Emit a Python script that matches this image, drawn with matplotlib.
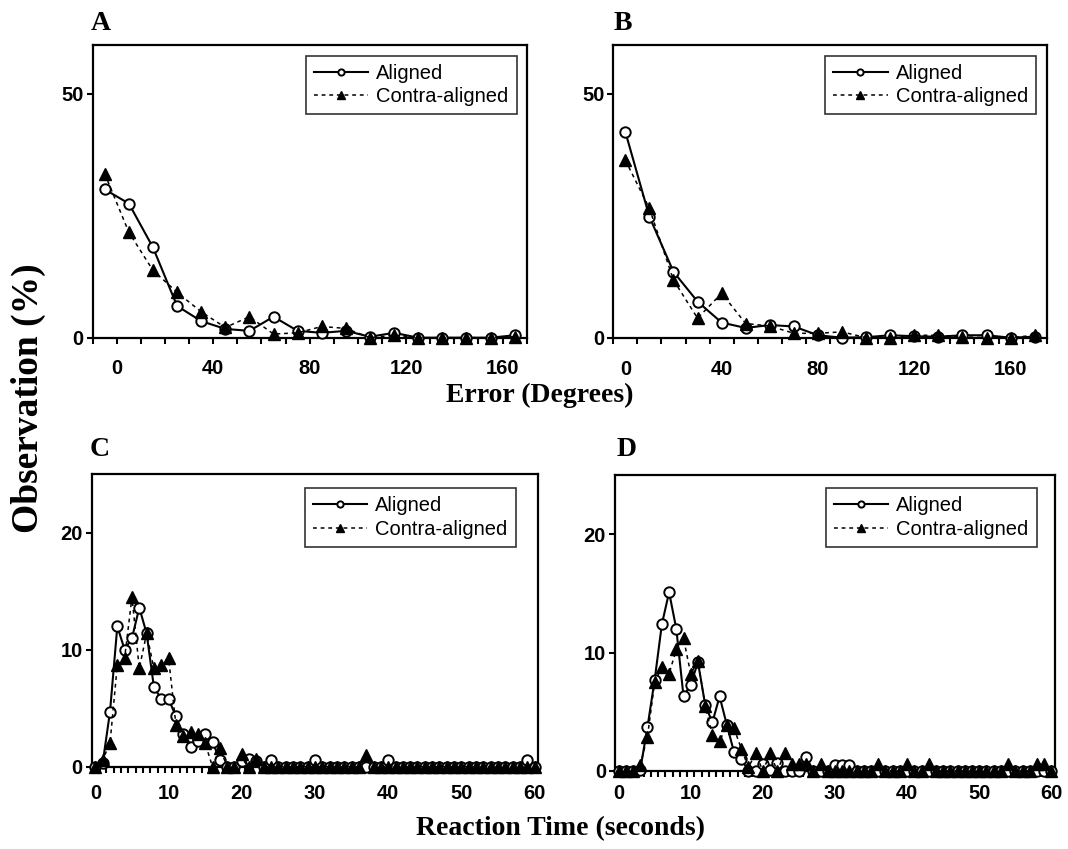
import matplotlib
matplotlib.use("Agg")
import matplotlib.pyplot as plt
import numpy as np

# ---------------- data ----------------
err_a_x = [-5, 5, 15, 25, 35, 45, 55, 65, 75, 85, 95, 105, 115, 125, 135, 145, 155, 165]
err_a_aligned = [30.4, 27.5, 18.5, 6.5, 3.4, 1.8, 1.4, 4.3, 1.4, 1.0, 1.4, 0.2, 1.0, 0, 0, 0, 0, 0.5]
err_a_contra = [33.6, 21.6, 13.8, 9.3, 5.3, 2.1, 4.3, 0.75, 1.0, 2.3, 1.9, 0, 0.5, 0, 0, 0, 0, 0.2]

err_b_x = [0, 10, 20, 30, 40, 50, 60, 70, 80, 90, 100, 110, 120, 130, 140, 150, 160, 170]
err_b_aligned = [42.2, 24.8, 13.5, 7.4, 3.1, 2.0, 2.6, 2.3, 0.5, 0, 0.1, 0.5, 0.3, 0.2, 0.5, 0.5, 0, 0.2]
err_b_contra = [36.4, 26.5, 11.8, 4.0, 9.1, 2.9, 2.4, 0.9, 0.9, 1.2, 0, 0, 0.5, 0.5, 0.2, 0, 0, 0.5]

rt_x = list(range(61))
rt_c_aligned = [0, 0.3, 4.7, 12.0, 10.0, 11.0, 13.6, 11.4, 6.8, 5.8,
                5.8, 4.3, 2.8, 1.7, 2.2, 2.8, 2.1, 0.6, 0, 0,
                0.5, 0.7, 0.5, 0, 0.6, 0, 0, 0, 0, 0,
                0.6, 0, 0, 0, 0, 0, 0, 0, 0, 0,
                0.6, 0, 0, 0, 0, 0, 0, 0, 0, 0,
                0, 0, 0, 0, 0, 0, 0, 0, 0, 0.6, 0]
rt_c_contra = [0, 0.6, 2.0, 8.7, 9.3, 14.5, 8.4, 11.4, 8.4, 8.7,
               9.3, 3.6, 2.6, 3.0, 2.8, 2.0, 0, 1.6, 0, 0,
               1.1, 0, 0.7, 0, 0, 0, 0, 0, 0, 0,
               0, 0, 0, 0, 0, 0, 0, 1.0, 0, 0,
               0, 0, 0, 0, 0, 0, 0, 0, 0, 0,
               0, 0, 0, 0, 0, 0, 0, 0, 0, 0, 0]
rt_d_aligned = [0, 0, 0, 0.1, 3.7, 7.7, 12.4, 15.1, 12.0, 6.3,
                7.3, 9.2, 5.6, 4.1, 6.3, 3.9, 1.6, 1.0, 0, 0,
                0.6, 0.1, 0.7, 0, 0, 0, 1.2, 0, 0, 0,
                0.5, 0.5, 0.5, 0, 0, 0, 0, 0, 0, 0,
                0, 0, 0, 0, 0, 0, 0, 0, 0, 0,
                0, 0, 0, 0, 0, 0, 0, 0, 0, 0, 0]
rt_d_contra = [0, 0, 0, 0.5, 2.9, 7.5, 8.8, 8.2, 10.3, 11.2,
               8.2, 9.3, 5.5, 3.0, 2.5, 3.9, 3.6, 1.9, 0.3, 1.5,
               0, 1.5, 0, 1.5, 0.6, 0.6, 0.6, 0, 0.6, 0,
               0, 0, 0, 0, 0, 0, 0.6, 0, 0, 0,
               0.6, 0, 0, 0.6, 0, 0, 0, 0, 0, 0,
               0, 0, 0, 0, 0.6, 0, 0, 0, 0.6, 0.6, 0]

series_labels = ["Aligned", "Contra-aligned"]
err_ticks = [0, 40, 80, 120, 160]
rt_ticks = [0, 10, 20, 30, 40, 50, 60]

# ---------------- style ----------------
W, H = 1068, 849
fig = plt.figure(figsize=(W / 100, H / 100), dpi=100)
serif = "Liberation Serif"
sans = "Liberation Sans"
TICK_FS = 14.5

def px_axes(l, r, t, b):
    return fig.add_axes([l / W, 1 - b / H, (r - l) / W, (b - t) / H])

def style(ax):
    for s in ax.spines.values():
        s.set_linewidth(1.6)
        s.set_color("black")
    ax.tick_params(axis="both", which="major", direction="out", length=4, width=1.5,
                   labelsize=TICK_FS)
    ax.tick_params(axis="y", which="major", pad=2.5)
    for lab in ax.get_xticklabels() + ax.get_yticklabels() + ax.get_xticklabels(minor=True):
        lab.set_fontfamily(sans)
        lab.set_fontweight("bold")
        lab.set_fontsize(TICK_FS)

def draw(ax, x, a, c, ms_o=7.5, ms_t=8.5):
    ax.plot(x, a, "-", color="black", lw=1.5, marker="o", ms=ms_o, mfc="white",
            mec="black", mew=1.4, clip_on=False, zorder=3, label=series_labels[0])
    ax.plot(x, c, color="black", lw=1.1, ls=(0, (2.5, 2.5)), marker="^", ms=ms_t,
            mfc="black", mec="black", clip_on=False, zorder=4, label=series_labels[1])

def legend(ax, xr, yt):
    lg = ax.legend(loc="upper right", bbox_to_anchor=(xr, yt), borderaxespad=0,
                   frameon=True, fancybox=False, edgecolor="black",
                   prop={"family": sans, "size": 14.5}, handlelength=2.7,
                   handletextpad=0.4, borderpad=0.4, labelspacing=0.22,
                   markerscale=0.6)
    lg.get_frame().set_linewidth(1.2)
    return lg

def rt_axis(ax, pad):
    ax.set_xlim(-0.5, 60.5)
    ax.set_ylim(0, 25)
    ax.set_xticks(np.arange(-0.5, 61, 1))
    ax.set_xticklabels([])
    ax.set_xticks(rt_ticks, [str(v) for v in rt_ticks], minor=True)
    ax.tick_params(axis="x", which="minor", length=0, pad=pad)
    ax.set_yticks([0, 10, 20])

# Panel A
axA = px_axes(92.7, 526.7, 45, 337.7)
draw(axA, err_a_x, err_a_aligned, err_a_contra)
axA.set_xlim(-10, 170)
axA.set_ylim(0, 60)
axA.set_xticks(np.arange(-10, 171, 10))
axA.set_xticklabels([str(v) if v in err_ticks else "" for v in range(-10, 171, 10)])
axA.set_yticks([0, 50])
style(axA)
axA.tick_params(axis="x", which="major", pad=11)
legend(axA, 0.977, 0.963)

# Panel B
axB = px_axes(613.3, 1046.7, 45, 337.7)
draw(axB, err_b_x, err_b_aligned, err_b_contra)
axB.set_xlim(-5, 175)
axB.set_ylim(0, 60)
axB.set_xticks(np.arange(-5, 176, 10))
axB.set_xticklabels([])
axB.set_xticks(err_ticks, [str(v) for v in err_ticks], minor=True)
axB.tick_params(axis="x", which="minor", length=0, pad=16)
axB.set_yticks([0, 50])
style(axB)
legend(axB, 0.975, 0.963)

# Panel C
axC = px_axes(91.7, 538.3, 474.3, 766.7)
draw(axC, rt_x, rt_c_aligned, rt_c_contra)
rt_axis(axC, 12.5)
style(axC)
legend(axC, 0.949, 0.952)

# Panel D
axD = px_axes(615, 1055, 475, 771)
draw(axD, rt_x, rt_d_aligned, rt_d_contra)
rt_axis(axD, 9.5)
style(axD)
legend(axD, 0.958, 0.955)

# Panel letters
for txt, x, y in [("A", 101, 23), ("B", 623, 23), ("C", 100, 449), ("D", 627, 450)]:
    fig.text(x / W, 1 - y / H, txt, family=serif, weight="bold", fontsize=20,
             ha="center", va="center")

fig.text(540 / W, 1 - 395 / H, "Error (Degrees)", family=serif, weight="bold",
         fontsize=20, ha="center", va="center")
fig.text(560 / W, 1 - 829 / H, "Reaction Time (seconds)", family=serif, weight="bold",
         fontsize=20, ha="center", va="center")
fig.text(28 / W, 1 - 398 / H, "Observation (%)", family=serif, weight="bold",
         fontsize=27, ha="center", va="center", rotation=90)

fig.savefig("out.png", dpi=100)
